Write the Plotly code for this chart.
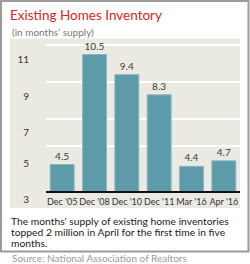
import plotly.graph_objects as go

# ---- data ----
categories = ["Dec '05", "Dec '08", "Dec '10", "Dec '11", "Mar '16", "Apr '16"]
months_supply = [4.5, 10.5, 9.4, 8.3, 4.4, 4.7]
y_tick_labels = ["3", "5", "7", "9", "11"]
grid_values = [5.5, 7, 9, 11]
axis_base = 3

title_text = "Existing Homes Inventory"
subtitle_text = "(in months\u2019 supply)"
caption_lines = [
    "The months\u2019 supply of existing home inventories",
    "topped 2 million in April for the first time in five",
    "months.",
]
source_text = "Source: National Association of Realtors"

# ---- layout geometry (pixels) ----
W, H = 250, 264
L, R, T, B = 46, 240, 39, 208  # plot area edges


def px_x(x):
    return (x - L) / (R - L)


def px_y(y):
    return (B - y) / (B - T)


FONT = "Lato, 'Open Sans', sans-serif"
BAR = "#5E9BAA"
PANEL = "#EBEAE2"

fig = go.Figure()
fig.add_trace(go.Bar(
    x=categories,
    y=[v - axis_base for v in months_supply],
    base=axis_base,
    text=[f"{v:.1f}" for v in months_supply],
    textposition="outside",
    textfont=dict(family=FONT, size=10, color="#3a3a3a"),
    cliponaxis=False,
    marker=dict(color=BAR, line=dict(color="#88B6C1", width=1)),
    hoverinfo="skip",
))
# invisible trace to hold the gridline axis
fig.add_trace(go.Scatter(x=[categories[0]], y=[axis_base], yaxis="y2",
                         mode="markers", marker=dict(opacity=0), hoverinfo="skip",
                         showlegend=False))

yrange = [2.127, 11.347]
fig.update_layout(
    width=W, height=H,
    margin=dict(l=L, r=W - R, t=T, b=H - B, pad=0),
    paper_bgcolor="white",
    plot_bgcolor="rgba(0,0,0,0)",
    showlegend=False,
    bargap=0.26,
    font=dict(family=FONT, color="#333"),
    xaxis=dict(
        type="category",
        range=[-0.5, 5.5],
        anchor="free",
        position=px_y(192),
        showline=True, linecolor="#111", linewidth=1.5,
        showgrid=False, zeroline=False,
        ticks="", tickangle=0,
        tickfont=dict(family=FONT, size=9, color="#333"),
        ticklabelstandoff=1,
        fixedrange=True,
    ),
    yaxis=dict(
        range=yrange,
        tickvals=[2.618, 4.582, 6.219, 8.237, 10.256],
        ticktext=y_tick_labels,
        showgrid=False, zeroline=False, showline=False,
        ticks="outside", ticklen=14, tickcolor="rgba(0,0,0,0)",
        tickfont=dict(family=FONT, size=10, color="#333"),
        fixedrange=True,
    ),
    yaxis2=dict(
        range=yrange, overlaying="y", side="right",
        tickvals=grid_values, showticklabels=False,
        showgrid=True, gridcolor="white", gridwidth=1.5,
        zeroline=False, showline=False, ticks="",
        fixedrange=True,
    ),
    title=dict(
        text=title_text,
        x=10 / W, xanchor="left", xref="container",
        y=1 - 15 / H, yanchor="middle", yref="container",
        font=dict(family=FONT, size=13.5, color="#D6261E"),
    ),
)

shapes = [
    # outer box
    dict(type="rect", xref="paper", yref="paper",
         x0=px_x(1), x1=px_x(248.5), y0=px_y(251.5), y1=px_y(1),
         line=dict(color="#9a9a9a", width=2), fillcolor="rgba(0,0,0,0)", layer="below"),
    # chart panel
    dict(type="rect", xref="paper", yref="paper",
         x0=px_x(10), x1=px_x(240), y0=px_y(208), y1=px_y(38.5),
         line=dict(width=0), fillcolor=PANEL, layer="below"),
]
fig.update_layout(shapes=shapes)

annotations = [
    dict(text=subtitle_text, x=px_x(10), y=px_y(32.5), xref="paper", yref="paper",
         xanchor="left", yanchor="middle", showarrow=False,
         font=dict(family=FONT, size=10, color="#777")),
    dict(text=source_text, x=px_x(10), y=px_y(258), xref="paper", yref="paper",
         xanchor="left", yanchor="middle", showarrow=False,
         font=dict(family=FONT, size=10, color="#999")),
]
for line, yc in zip(caption_lines, [220.5, 231.5, 242.5]):
    annotations.append(dict(
        text=line, x=px_x(10), y=px_y(yc), xref="paper", yref="paper",
        xanchor="left", yanchor="middle", showarrow=False, borderpad=0,
        font=dict(family=FONT, size=10.3, color="#222")))
fig.update_layout(annotations=annotations)

fig.write_html("out.html")
